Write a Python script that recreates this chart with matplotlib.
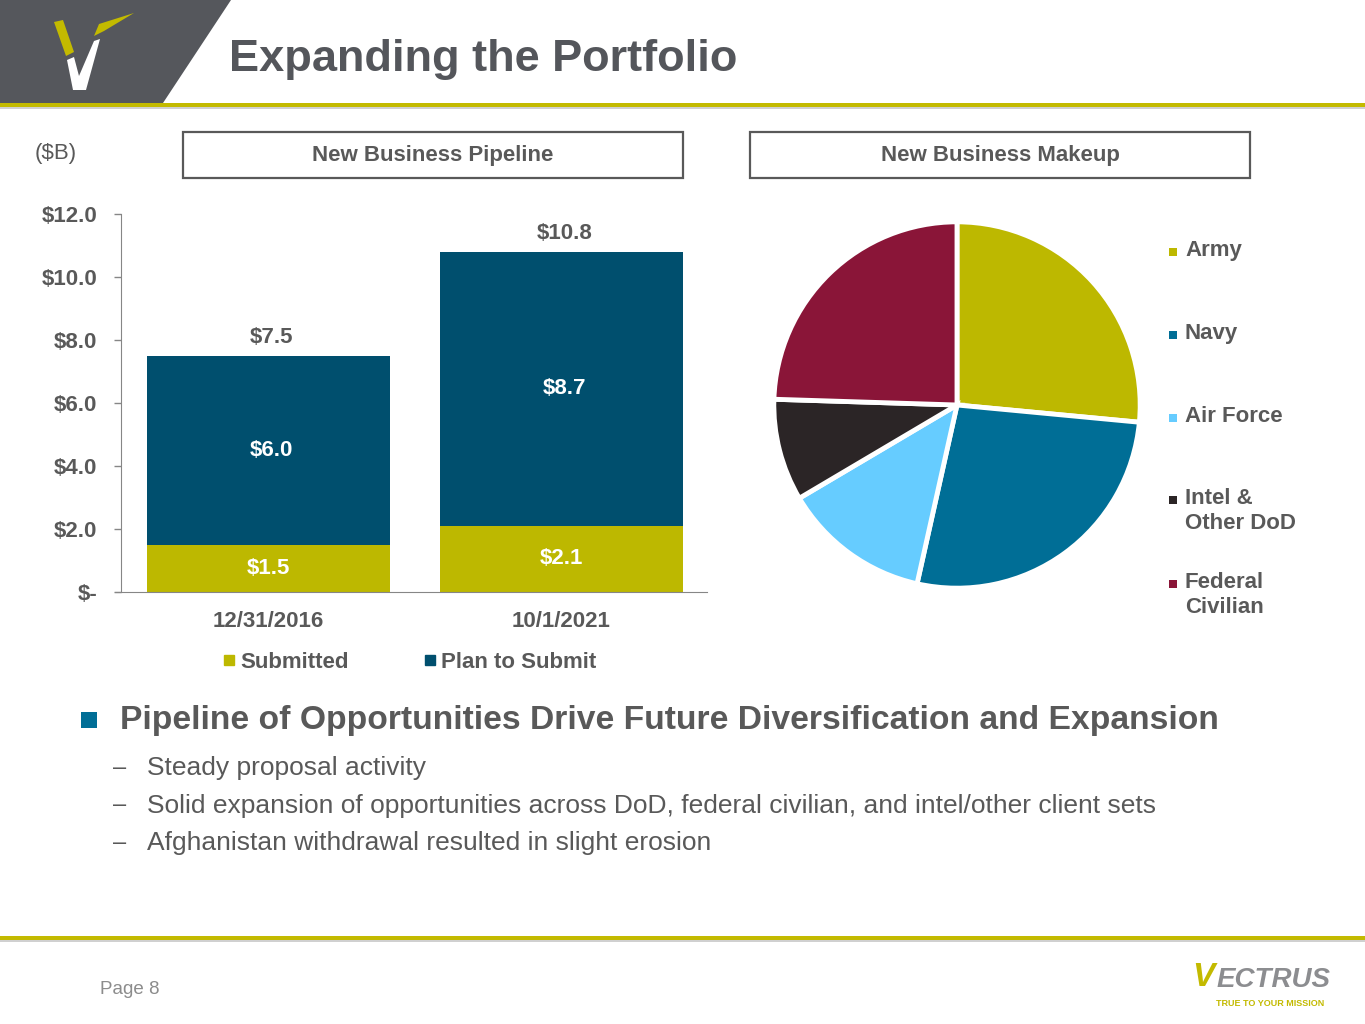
import matplotlib
matplotlib.use("Agg")
import matplotlib.pyplot as plt
from matplotlib.patches import Polygon, Rectangle
from matplotlib.lines import Line2D

plt.rcParams['text.parse_math'] = False
plt.rcParams['font.family'] = ['Liberation Sans', 'DejaVu Sans']

# ---------------- data ----------------
bar_categories = ["12/31/2016", "10/1/2021"]
submitted = [1.5, 2.1]
plan_to_submit = [6.0, 8.7]
totals = [7.5, 10.8]
series_names = ["Submitted", "Plan to Submit"]
ytick_values = [0, 2, 4, 6, 8, 10, 12]
ytick_labels = ["$-", "$2.0", "$4.0", "$6.0", "$8.0", "$10.0", "$12.0"]

pie_labels = ["Army", "Navy", "Air Force", "Intel &\nOther DoD", "Federal\nCivilian"]
pie_values = [26.5, 27.0, 13.0, 9.0, 24.5]

bullet_main = "Pipeline of Opportunities Drive Future Diversification and Expansion"
sub_bullets = ["Steady proposal activity",
               "Solid expansion of opportunities across DoD, federal civilian, and intel/other client sets",
               "Afghanistan withdrawal resulted in slight erosion"]

# ---------------- style ----------------
W, H = 1365, 1024
GRAY = "#595959"
GOLD = "#C3BA00"
OLIVE = "#BDB800"
DARKBLUE = "#004F6E"
pie_colors = ["#BDB800", "#006E96", "#66CCFF", "#2B2526", "#8A1538"]


def fx(x):
    return x / W


def fy(y):
    return 1 - y / H


fig = plt.figure(figsize=(13.65, 10.24), dpi=100)

# ---------------- header ----------------
fig.add_artist(Polygon([(fx(0), fy(0)), (fx(231), fy(0)), (fx(163), fy(103)), (fx(0), fy(103))],
                       closed=True, facecolor="#55575C", edgecolor="none", transform=fig.transFigure))
# logo
fig.add_artist(Polygon([(fx(54), fy(22)), (fx(63), fy(20)), (fx(74), fy(52)), (fx(66), fy(56))],
                       closed=True, facecolor=GOLD, edgecolor="none", transform=fig.transFigure))
fig.add_artist(Polygon([(fx(67), fy(60)), (fx(74), fy(57)), (fx(79), fy(76)), (fx(94), fy(41)),
                        (fx(100), fy(39)), (fx(86), fy(90)), (fx(73), fy(90))],
                       closed=True, facecolor="white", edgecolor="none", transform=fig.transFigure))
fig.add_artist(Polygon([(fx(94), fy(36)), (fx(99), fy(24)), (fx(134), fy(13)), (fx(104), fy(31))],
                       closed=True, facecolor=GOLD, edgecolor="none", transform=fig.transFigure))
fig.add_artist(Rectangle((0, fy(109)), 1, 2 / H, facecolor="#D0D0D0", edgecolor="none",
                         transform=fig.transFigure))
fig.add_artist(Rectangle((0, fy(107)), 1, 4 / H, facecolor=GOLD, edgecolor="none",
                         transform=fig.transFigure))
fig.text(fx(229), fy(59), "Expanding the Portfolio", fontsize=32.5, fontweight="bold",
         color="#54565B", ha="left", va="center")

# ---------------- section boxes ----------------
for (x0, x1, label) in [(183, 683, "New Business Pipeline"), (750, 1250, "New Business Makeup")]:
    fig.add_artist(Rectangle((fx(x0), fy(178)), fx(x1) - fx(x0), (178 - 132) / H, facecolor="white",
                             edgecolor="#595959", linewidth=1.6, transform=fig.transFigure))
    fig.text(fx((x0 + x1) / 2), fy(156), label, fontsize=16, fontweight="bold", color=GRAY,
             ha="center", va="center")

fig.text(fx(35), fy(154), "($B)", fontsize=16, color=GRAY, ha="left", va="center")

# ---------------- bar chart ----------------
ax = fig.add_axes([fx(121), fy(592), fx(707) - fx(121), (592 - 214) / H])
xpos = list(range(len(bar_categories)))
b1 = ax.bar(xpos, submitted, width=0.83, color=OLIVE, label=series_names[0])
b2 = ax.bar(xpos, plan_to_submit, width=0.83, bottom=submitted, color=DARKBLUE, label=series_names[1])
ax.set_xlim(-0.503, 1.497)
ax.set_ylim(0, 12)
ax.set_yticks(ytick_values)
ax.set_yticklabels(ytick_labels)
ax.set_xticks(xpos)
ax.set_xticklabels(bar_categories)
for lab in ax.get_yticklabels() + ax.get_xticklabels():
    lab.set_fontweight("bold")
    lab.set_fontsize(16)
    lab.set_color(GRAY)
ax.tick_params(axis="y", direction="out", length=5, width=1, color="#868686", pad=12)
ax.tick_params(axis="x", length=0, pad=14)
for s in ["top", "right"]:
    ax.spines[s].set_visible(False)
ax.spines["left"].set_color("#868686")
ax.spines["bottom"].set_color("#868686")
ax.spines["bottom"].set_bounds(-0.523, 1.497)
ax.patch.set_alpha(0)

for i in xpos:
    ax.text(i, submitted[i] / 2, f"${submitted[i]:.1f}", ha="center", va="center",
            color="white", fontsize=16, fontweight="bold")
    ax.text(i + 0.01, submitted[i] + plan_to_submit[i] / 2, f"${plan_to_submit[i]:.1f}", ha="center",
            va="center", color="white", fontsize=16, fontweight="bold")
    ax.annotate(f"${totals[i]:.1f}", (i + 0.01, totals[i]), xytext=(0, 18), textcoords="offset pixels",
                ha="center", va="center", color=GRAY, fontsize=16, fontweight="bold")

handles = [Line2D([], [], marker="s", linestyle="none", markersize=7, color=c)
           for c in [OLIVE, DARKBLUE]]
leg = fig.legend(handles, series_names, loc="center", bbox_to_anchor=(fx(408), fy(662)), ncol=2,
                 frameon=False, handletextpad=0.1, columnspacing=3.25, handlelength=0.8,
                 prop={"size": 16, "weight": "bold"})
for t in leg.get_texts():
    t.set_color(GRAY)

# ---------------- pie chart ----------------
r = 185
pax = fig.add_axes([fx(957 - r), fy(405 + r), 2 * r / W, 2 * r / H])
pax.pie(pie_values, colors=pie_colors, startangle=90, counterclock=False,
        wedgeprops={"edgecolor": "white", "linewidth": 3.5})
pax.set_xlim(-1.01, 1.01)
pax.set_ylim(-1.01, 1.01)
pax.set_aspect("equal")
pax.axis("off")

leg_y = [252, 335, 418, 500, 584]
for lab, col, yy in zip(pie_labels, pie_colors, leg_y):
    fig.add_artist(Rectangle((fx(1169), fy(yy + 4)), 8 / W, 8 / H, facecolor=col, edgecolor="none",
                             transform=fig.transFigure))
    fig.text(fx(1185), fy(yy - 12), lab, fontsize=16, fontweight="bold", color=GRAY,
             ha="left", va="top", linespacing=1.25)

# ---------------- bullets ----------------
fig.add_artist(Rectangle((fx(81), fy(728)), 16 / W, 16 / H, facecolor="#006E96", edgecolor="none",
                         transform=fig.transFigure))
fig.text(fx(120), fy(721), bullet_main, fontsize=24.2, fontweight="bold", color=GRAY,
         ha="left", va="center")
for k, txt in enumerate(sub_bullets):
    yy = 768 + k * 37.5
    fig.text(fx(113), fy(yy), "–", fontsize=17, color=GRAY, ha="left", va="center")
    fig.text(fx(147), fy(yy), txt, fontsize=19, color=GRAY, ha="left", va="center")

# ---------------- footer ----------------
fig.add_artist(Rectangle((0, fy(942)), 1, 2 / H, facecolor="#D0D0D0", edgecolor="none",
                         transform=fig.transFigure))
fig.add_artist(Rectangle((0, fy(940)), 1, 4 / H, facecolor=GOLD, edgecolor="none",
                         transform=fig.transFigure))
fig.text(fx(100), fy(989), "Page 8", fontsize=13.5, color="#8C8C8C", ha="left", va="center")
fig.text(fx(1192), fy(978), "V", fontsize=24, fontweight="bold", style="italic", color=GOLD,
         ha="left", va="center")
fig.text(fx(1217), fy(980), "ECTRUS", fontsize=20, fontweight="bold", style="italic",
         color="#8C8D90", ha="left", va="center")
fig.text(fx(1216), fy(1004), "TRUE TO YOUR MISSION", fontsize=6.5, fontweight="bold", color=GOLD,
         ha="left", va="center")

fig.savefig("out.png", dpi=100)
